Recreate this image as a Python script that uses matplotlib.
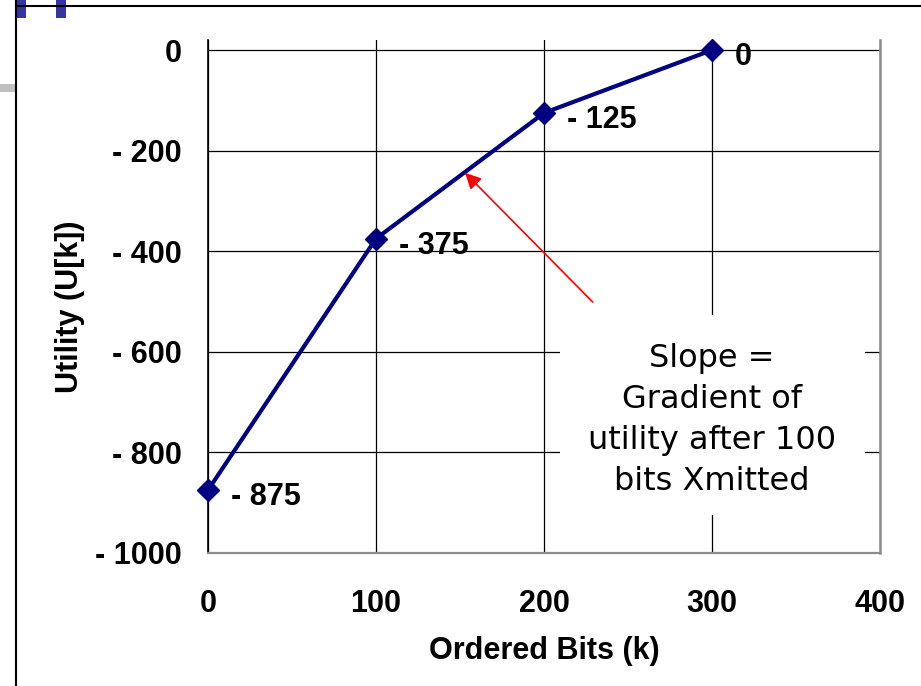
import matplotlib.pyplot as plt
from matplotlib.patches import Rectangle
from matplotlib.lines import Line2D

# data
bits = [0, 100, 200, 300]
utility = [-875, -375, -125, 0]
x_ticks = [0, 100, 200, 300, 400]
y_ticks = [0, -200, -400, -600, -800, -1000]
note = "Slope =\nGradient of\nutility after 100\nbits Xmitted"


def fmt(v):
    # Excel style: "- 200"
    v = int(round(v))
    if v < 0:
        return "- %d" % abs(v)
    return "%d" % v


W, H = 921, 686
fig = plt.figure(figsize=(W / 100, H / 100), dpi=100)
ax = fig.add_axes([208 / W, (H - 553) / H, 672 / W, 513 / H])

bold = dict(family="Liberation Sans", weight="bold")

ax.plot(bits, utility, color="#000080", lw=3, marker="D", markersize=11,
        zorder=3, clip_on=False)
for x, y in zip(bits, utility):
    ax.annotate(fmt(y), (x, y), xytext=(16.5, -5), textcoords="offset points",
                ha="left", va="center", fontsize=22, zorder=4, **bold)

ax.set_xlim(0, 400)
ax.set_ylim(-1000, 20)
ax.set_xticks(x_ticks)
ax.set_yticks(y_ticks)
ax.set_xticklabels([fmt(v) for v in x_ticks], fontsize=22, **bold)
ax.set_yticklabels([fmt(v) for v in y_ticks], fontsize=22, **bold)
ax.tick_params(axis="both", length=0)
ax.tick_params(axis="x", pad=26)
ax.tick_params(axis="y", pad=19)
ax.grid(True, color="black", lw=0.9)
ax.set_axisbelow(True)

ax.spines["top"].set_visible(False)
ax.spines["left"].set_color("black")
ax.spines["left"].set_linewidth(1.2)
ax.spines["bottom"].set_color("#8c8c8c")
ax.spines["bottom"].set_linewidth(1.6)
ax.spines["right"].set_color("#8c8c8c")
ax.spines["right"].set_linewidth(1.8)

ax.set_xlabel("Ordered Bits (k)", fontsize=22, labelpad=12, **bold)
ax.set_ylabel("Utility (U[k])", fontsize=22, labelpad=12, **bold)
ax.yaxis.set_label_coords(-0.183, 0.48)

# white note box covering the grid
ax.add_patch(Rectangle((0.524, 0.074), 0.454, 0.39, transform=ax.transAxes,
                       facecolor="white", edgecolor="none", zorder=1.5))
ax.text(0.75, 0.26, note, transform=ax.transAxes, ha="center", va="center",
        fontsize=23, linespacing=1.42, family="DejaVu Sans", zorder=3)

ax.annotate("", xy=(153, -244), xytext=(229, -501),
            arrowprops=dict(arrowstyle="-|>", color="red", lw=1.2,
                            mutation_scale=24, shrinkA=0, shrinkB=0),
            zorder=4)


# slide frame decoration, in pixel coordinates
def fx(x):
    return x / W


def fy(y):
    return 1 - y / H


fig.add_artist(Line2D([fx(16), fx(16)], [fy(0), fy(H)], color="black", lw=1.5))
fig.add_artist(Line2D([fx(16), fx(W)], [fy(6), fy(6)], color="black", lw=1.5))
for x0 in (16, 56):
    fig.add_artist(Rectangle((fx(x0), fy(18)), 10 / W, 18 / H,
                             facecolor="#3434a4", edgecolor="none"))
fig.add_artist(Rectangle((0, fy(92)), 16 / W, 8 / H,
                         facecolor="#c0c0c0", edgecolor="none"))

fig.savefig("out.png", dpi=100)
